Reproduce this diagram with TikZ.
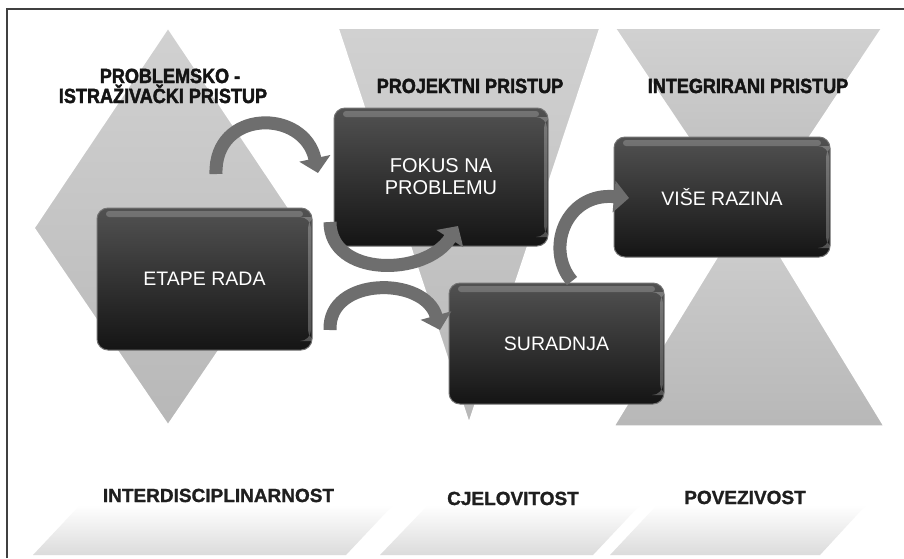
\documentclass[tikz,border=0pt]{standalone}
\usepackage{fontspec}
\usepackage{graphicx}
\setmainfont{Liberation Sans}
\newfontfamily\hdrfont[FakeStretch=0.88,FakeBold=2]{Liberation Sans}
\newfontfamily\lblfont[FakeBold=1.2]{Liberation Sans}
\usetikzlibrary{arrows.meta}
\begin{document}
\begin{tikzpicture}[x=1pt,y=-1pt,
  bgshape/.style={top color=gray!36,bottom color=gray!56,draw=white,line width=1.5pt},
  plate/.style={top color=white,bottom color=gray!28,draw=none},
  box/.style={rounded corners=11pt,top color=black!68,bottom color=black!92,draw=black!55,line width=1pt,
    text=white,font=\fontsize{19.5}{22}\selectfont,align=center,inner sep=0pt,
    path picture={
      \fill[white,opacity=0.2,rounded corners=3pt] ([xshift=9pt,yshift=-3pt]path picture bounding box.north west) rectangle ([xshift=-9pt,yshift=-9pt]path picture bounding box.north east);
      \fill[white,opacity=0.25] ([xshift=-4pt,yshift=-9pt]path picture bounding box.north east) rectangle ([xshift=-1pt,yshift=9pt]path picture bounding box.south east);
    }},
  hdr/.style={font=\hdrfont\bfseries\fontsize{20.5}{20}\selectfont,text=black!92},
  lbl/.style={font=\lblfont\bfseries\fontsize{19}{19}\selectfont,text=black!88},
  flow/.style={line width=13pt,draw=black!57,-{Triangle[width=31pt,length=15pt]}}]

\useasboundingbox (0,0) rectangle (904,558);
\fill[white] (0,0) rectangle (904,558);

% background shapes
\path[bgshape] (168,28) -- (302,228) -- (168,425) -- (34,228) -- cycle;
\path[bgshape] (338,28) -- (600,28) -- (469,423) -- cycle;
\path[bgshape] (614,426) -- (884,426) -- (749,205) -- cycle;
\path[bgshape] (615,28) -- (882,28) -- (749,228) -- cycle;

% bottom plates
\path[plate] (33,555) -- (80,505) -- (393,505) -- (346,555) -- cycle;
\path[plate] (380,555) -- (428,505) -- (640,505) -- (593,555) -- cycle;
\path[plate] (610,555) -- (657,505) -- (866,505) -- (820,555) -- cycle;

% frame
\draw[black!75,line width=1.5pt] (7,558) -- (7,9) -- (904,9);

% headers
\node[hdr,anchor=base] (h1a) at (170,83) {PROBLEMSKO -};
\node[hdr,anchor=base] (h1b) at (163,103) {ISTRAŽIVAČKI PRISTUP};
\node[hdr,anchor=base] (h2) at (470,93) {PROJEKTNI PRISTUP};
\node[hdr,anchor=base] (h3) at (748,93) {INTEGRIRANI PRISTUP};

% boxes
\node[box,minimum width=214pt,minimum height=138pt,font=\fontsize{20}{22}\selectfont] (fokus) at (441,177) {FOKUS NA\\PROBLEMU};
\node[box,minimum width=216pt,minimum height=120pt] (vise) at (722,197) {VIŠE RAZINA};
\node[box,minimum width=215pt,minimum height=142pt] (etape) at (204.5,279) {ETAPE RADA};
\node[box,minimum width=215pt,minimum height=121pt] (suradnja) at (556.5,343.5) {SURADNJA};

% bottom labels
\node[lbl,anchor=base] (l1) at (218.5,502) {INTERDISCIPLINARNOST};
\node[lbl,anchor=base] (l2) at (513,505) {CJELOVITOST};
\node[lbl,anchor=base] (l3) at (745,504) {POVEZIVOST};

% curved arrows
\coordinate (a1s) at (216,174);
\coordinate (a1e) at (318,173);
\coordinate (a2s) at (330,222);
\coordinate (a2e) at (458,226);
\coordinate (a3s) at (330,330);
\coordinate (a3e) at (440,330);
\coordinate (a4s) at (572,281);
\coordinate (a4e) at (629,198);
\draw[flow] (a1s) .. controls (214,109) and (304,108) .. (a1e);
\draw[flow] (a2s) .. controls (330,277) and (425,277) .. (a2e);
\draw[flow] (a3s) .. controls (328,276) and (425,276) .. (a3e);
\draw[flow] (a4s) .. controls (545,250) and (565,192) .. (a4e);
\end{tikzpicture}
\end{document}
